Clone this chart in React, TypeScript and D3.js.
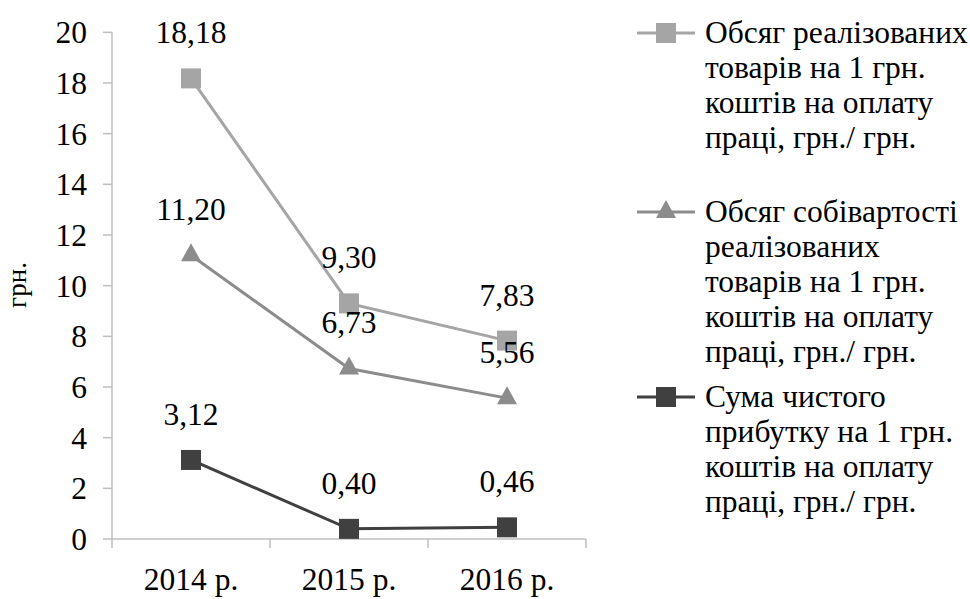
import React from "react";
import * as d3 from "d3";

const categories = ["2014 р.", "2015 р.", "2016 р."];
const salesPerWage = [18.18, 9.3, 7.83];
const costPerWage = [11.2, 6.73, 5.56];
const profitPerWage = [3.12, 0.4, 0.46];
const yTicks = [0, 2, 4, 6, 8, 10, 12, 14, 16, 18, 20];

const legendLabels = [
  ["Обсяг реалізованих", "товарів на 1 грн.", "коштів на оплату", "праці, грн./ грн."],
  ["Обсяг собівартості", "реалізованих", "товарів на 1 грн.", "коштів на оплату", "праці, грн./ грн."],
  ["Сума чистого", "прибутку на 1 грн.", "коштів на оплату", "праці, грн./ грн."],
];

type Series = { values: number[]; color: string; marker: "square" | "triangle" };
const series: Series[] = [
  { values: salesPerWage, color: "#A5A5A5", marker: "square" },
  { values: costPerWage, color: "#8C8C8C", marker: "triangle" },
  { values: profitPerWage, color: "#404040", marker: "square" },
];

const W = 970;
const H = 599;
const plotLeft = 112;
const plotRight = 586;
const plotTop = 32.3;
const plotBottom = 539;
const font = "Liberation Serif";
const fs = 31.5;
const axisColor = "#BFBFBF";
const legendTops = [33, 212, 397];
const legendLineGap = 34.8;

function Marker({ kind, x, y, color }: { kind: string; x: number; y: number; color: string }) {
  if (kind === "square") {
    return <rect x={x - 10} y={y - 10} width={20} height={20} fill={color} />;
  }
  const h = 18;
  const w = 20;
  const pts = [
    [x, y - (2 * h) / 3],
    [x + w / 2, y + h / 3],
    [x - w / 2, y + h / 3],
  ];
  return <polygon points={pts.map((p) => p.join(",")).join(" ")} fill={color} />;
}

export default function App() {
  const x = d3.scaleBand<string>().domain(categories).range([plotLeft, plotRight]).padding(0);
  const y = d3.scaleLinear().domain([0, 20]).range([plotBottom, plotTop]);
  const cx = (c: string) => (x(c) as number) + x.bandwidth() / 2;
  const line = d3
    .line<number>()
    .x((_, i) => cx(categories[i]))
    .y((d) => y(d));
  const boundaries = [...categories.map((c) => x(c) as number), plotRight];

  return (
    <svg width={W} height={H} style={{ position: "absolute", left: 0, top: 0, background: "#fff" }}>
      <rect width={W} height={H} fill="#fff" />
      {/* y axis */}
      <line x1={plotLeft} x2={plotLeft} y1={plotTop} y2={plotBottom} stroke={axisColor} strokeWidth={1.5} />
      {yTicks.map((t) => (
        <g key={t}>
          <line x1={plotLeft - 9} x2={plotLeft} y1={y(t)} y2={y(t)} stroke={axisColor} strokeWidth={1.5} />
          <text x={87} y={y(t)} dy="0.35em" textAnchor="end" fontFamily={font} fontSize={fs} fill="#000">
            {t}
          </text>
        </g>
      ))}
      <text
        transform={`translate(26, 285) rotate(-90)`}
        textAnchor="middle"
        fontFamily={font}
        fontSize={27}
        fill="#000"
      >
        грн.
      </text>
      {/* x axis */}
      <line x1={plotLeft} x2={plotRight} y1={plotBottom} y2={plotBottom} stroke={axisColor} strokeWidth={1.5} />
      {boundaries.map((b, i) => (
        <line key={i} x1={b} x2={b} y1={plotBottom} y2={plotBottom + 9} stroke={axisColor} strokeWidth={1.5} />
      ))}
      {categories.map((c) => (
        <text key={c} x={cx(c)} y={590} textAnchor="middle" fontFamily={font} fontSize={fs} fill="#000">
          {c}
        </text>
      ))}
      {/* series */}
      {series.map((s, si) => (
        <g key={si}>
          <path d={line(s.values) as string} fill="none" stroke={s.color} strokeWidth={3} />
          {s.values.map((v, i) => (
            <Marker key={i} kind={s.marker} x={cx(categories[i])} y={y(v)} color={s.color} />
          ))}
          {s.values.map((v, i) => (
            <text
              key={"l" + i}
              x={cx(categories[i])}
              y={y(v) - 35}
              textAnchor="middle"
              fontFamily={font}
              fontSize={fs}
              fill="#000"
            >
              {v.toFixed(2).replace(".", ",")}
            </text>
          ))}
        </g>
      ))}
      {/* legend */}
      {series.map((s, si) => (
        <g key={"lg" + si}>
          <line x1={637} x2={695} y1={legendTops[si]} y2={legendTops[si]} stroke={s.color} strokeWidth={3} />
          <Marker kind={s.marker} x={666} y={legendTops[si]} color={s.color} />
          {legendLabels[si].map((t, li) => (
            <text
              key={li}
              x={705}
              y={legendTops[si] + li * legendLineGap}
              dy="0.33em"
              fontFamily={font}
              fontSize={fs}
              fill="#000"
            >
              {t}
            </text>
          ))}
        </g>
      ))}
    </svg>
  );
}
